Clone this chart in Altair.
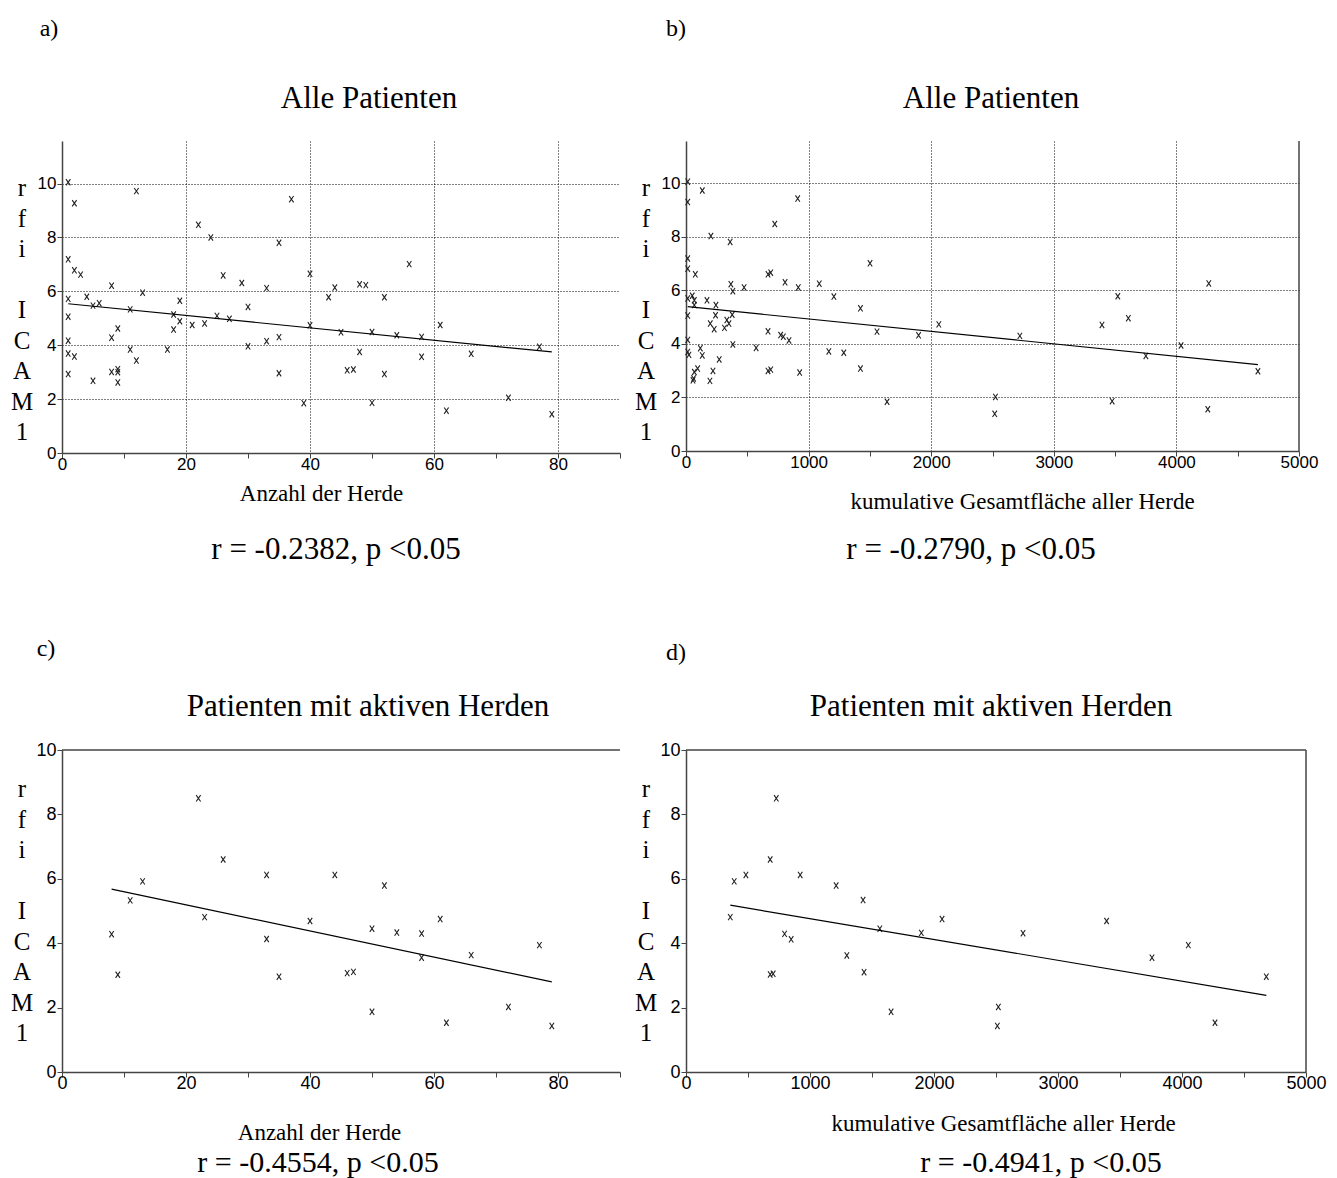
import altair as alt
import pandas as pd

# ---------------- data ----------------
a_x = [1, 2, 12, 37, 22, 24, 35, 1, 2, 3, 26, 40, 29, 8, 33, 13, 1, 4, 5, 6,
       19, 30, 11, 18, 19, 25, 27, 1, 21, 23, 40, 9, 18, 8, 35, 1, 11, 17, 30, 33,
       1, 2, 12, 8, 9, 9, 1, 5, 9, 35, 39,
       56, 43, 44, 48, 49, 52, 61, 45, 50, 54, 58, 48, 58, 66, 77, 46, 47, 52, 50, 72, 62, 79]
a_y = [10.05, 9.27, 9.72, 9.42, 8.47, 8.0, 7.8, 7.19, 6.78, 6.62, 6.59, 6.65, 6.31, 6.21, 6.12, 5.95, 5.72, 5.80, 5.47, 5.56,
       5.65, 5.42, 5.33, 5.14, 4.89, 5.09, 4.98, 5.06, 4.75, 4.81, 4.74, 4.62, 4.58, 4.28, 4.30, 4.17, 3.84, 3.84, 3.96, 4.15,
       3.69, 3.58, 3.43, 3.01, 3.11, 3.0, 2.93, 2.68, 2.62, 2.96, 1.85,
       7.01, 5.78, 6.14, 6.26, 6.23, 5.78, 4.75, 4.48, 4.49, 4.37, 4.31, 3.75, 3.57, 3.68, 3.94, 3.07, 3.10, 2.93, 1.86, 2.05, 1.57, 1.44]
a_fit_x = [1, 79]
a_fit_y = [5.54, 3.75]

b_x = [14, 14, 133, 911, 724, 203, 360, 14, 14, 76, 669, 691, 1501, 808, 1087, 366, 382, 474, 916, 14,
       51, 68, 68, 171, 244, 1206, 1423, 14, 241, 377, 333, 350, 198, 230, 314, 669, 772, 794, 840, 1558,
       1897, 2062, 382, 572, 14, 117, 14, 24, 133, 1165, 1287, 271, 95, 68, 220, 669, 691, 927, 1423, 62,
       57, 195, 1640,
       2723, 4264, 3522, 3608, 3393, 4038, 3751, 4665, 2524, 2518, 3476, 4256]
b_y = [10.06, 9.30, 9.73, 9.43, 8.48, 8.03, 7.81, 7.19, 6.81, 6.60, 6.60, 6.66, 7.01, 6.30, 6.25, 6.23, 5.97, 6.11, 6.11, 5.70,
       5.80, 5.63, 5.45, 5.63, 5.45, 5.77, 5.33, 5.06, 5.07, 5.09, 4.89, 4.76, 4.76, 4.55, 4.60, 4.47, 4.33, 4.27, 4.13, 4.46,
       4.32, 4.73, 3.98, 3.85, 4.15, 3.84, 3.70, 3.59, 3.57, 3.72, 3.67, 3.42, 3.08, 2.95, 2.99, 2.99, 3.04, 2.93, 3.08, 2.71,
       2.64, 2.62, 1.84,
       4.30, 6.26, 5.78, 4.96, 4.71, 3.94, 3.55, 2.98, 2.02, 1.39, 1.86, 1.56]
b_fit_x = [14, 4665]
b_fit_y = [5.39, 3.23]

c_x = [8, 9, 11, 13, 22, 23, 26, 33, 33, 35, 40, 44, 52, 50, 54, 58, 61, 58, 66, 77, 46, 47, 50, 72, 62, 79]
c_y = [4.28, 3.02, 5.33, 5.92, 8.50, 4.81, 6.60, 6.12, 4.13, 2.96, 4.69, 6.12, 5.79, 4.45, 4.33, 4.30, 4.75, 3.55, 3.63,
       3.94, 3.07, 3.11, 1.87, 2.02, 1.53, 1.43]
c_fit_x = [8, 79]
c_fit_y = [5.68, 2.80]

d_x = [357, 389, 483, 679, 728, 679, 703, 921, 795, 848, 1211, 1428, 1297, 1436, 1563, 1898, 2065, 1654, 2718, 3392,
       4051, 3758, 4680, 2519, 2511, 4266]
d_y = [4.81, 5.92, 6.12, 6.60, 8.50, 3.03, 3.05, 6.12, 4.29, 4.12, 5.79, 5.34, 3.62, 3.10, 4.45, 4.32, 4.75, 1.87, 4.31,
       4.69, 3.94, 3.55, 2.96, 2.02, 1.43, 1.53]
d_fit_x = [357, 4680]
d_fit_y = [5.18, 2.38]

count_ticks = [0, 10, 20, 30, 40, 50, 60, 70, 80, 90]
area_ticks = [0, 500, 1000, 1500, 2000, 2500, 3000, 3500, 4000, 4500, 5000]
y_ticks_top = [0, 1, 2, 3, 4, 5, 6, 7, 8, 9, 10, 11]
y_ticks_bottom = [0, 1, 2, 3, 4, 5, 6, 7, 8, 9, 10]

panel_letters = ["a)", "b)", "c)", "d)"]
panel_titles = ["Alle Patienten", "Alle Patienten",
                "Patienten mit aktiven Herden", "Patienten mit aktiven Herden"]
x_titles = ["Anzahl der Herde", "kumulative Gesamtfläche aller Herde",
            "Anzahl der Herde", "kumulative Gesamtfläche aller Herde"]
r_texts = ["r = -0.2382, p <0.05", "r = -0.2790, p <0.05",
           "r = -0.4554, p <0.05", "r = -0.4941, p <0.05"]
y_title_part1 = ["r", "f", "i"]
y_title_part2 = ["I", "C", "A", "M", "1"]

# ---------------- styling ----------------
SERIF = "Liberation Serif, Times New Roman, serif"
TICKF = "Liberation Sans Narrow, Arial Narrow, Liberation Sans, sans-serif"
XPATH = "M-0.7,-1L0.7,1M0.7,-1L-0.7,1"
AXC = "#444444"
LH = 30.5


def text_layer(s, x, y, size, line_height=None):
    kw = dict(font=SERIF, fontSize=size, align="center", baseline="middle", color="black")
    if line_height is not None:
        kw["lineHeight"] = line_height
        kw["text"] = s
        return alt.Chart(pd.DataFrame({"t": [0]})).mark_text(**kw).encode(
            x=alt.value(x), y=alt.value(y))
    return alt.Chart(pd.DataFrame({"t": [s]})).mark_text(**kw).encode(
        text="t:N", x=alt.value(x), y=alt.value(y))


def panel(i, xs, ys, fx, fy, xticks, xlab, xmax, yticks, ymax, grid, w, h,
          xt_pos, r_pos, r_size, letter_pos, title_pos, ytitle_y, fs, lab_pad, top_rule, right_rule):
    df = pd.DataFrame({"x": xs, "y": ys})
    fit = pd.DataFrame({"x": fx, "y": fy})

    xaxis_kw = dict(
        values=xticks, format="d",
        labelExpr=f"datum.value % {xlab} === 0 && datum.value < {xmax + 1} ? datum.label : ''",
        domainColor=AXC, domainWidth=1.5, tickColor=AXC, tickSize=5, tickWidth=1,
        labelFont=TICKF, labelFontSize=fs, labelColor="black", labelPadding=lab_pad,
        labelFlush=False, labelOverlap=False, labelBound=False,
        title=x_titles[i], titleFont=SERIF, titleFontSize=23, titleFontWeight="normal",
        titleColor="black", titleX=xt_pos[0], titleY=xt_pos[1], titleAlign="center",
        titleBaseline="middle", grid=grid,
    )
    yaxis_kw = dict(
        values=yticks, format="d",
        labelExpr="datum.value % 2 === 0 ? datum.label : ''",
        domainColor=AXC, domainWidth=1.5, tickColor=AXC, tickSize=5, tickWidth=1,
        labelFont=TICKF, labelFontSize=fs, labelColor="black", labelPadding=1,
        labelFlush=False, labelOverlap=False, labelBound=False,
        title="", grid=grid,
    )
    if grid:
        xaxis_kw.update(gridColor="black", gridDash=[1, 2], gridWidth=1,
                        gridOpacity={"condition": {"test": f"datum.value % {xlab} === 0 && datum.value > 0 && datum.value < {xmax}",
                                                   "value": 1}, "value": 0})
        yaxis_kw.update(gridColor="black", gridDash=[1, 2], gridWidth=1,
                        gridOpacity={"condition": {"test": "datum.value % 2 === 0 && datum.value > 0 && datum.value <= 10",
                                                   "value": 1}, "value": 0})

    xs_scale = alt.Scale(domain=[0, xmax], nice=False, zero=False)
    ys_scale = alt.Scale(domain=[0, ymax], nice=False, zero=False)

    pts = alt.Chart(df).mark_point(
        shape=XPATH, size=40, filled=False, stroke="#222222", strokeWidth=1.1, opacity=1
    ).encode(
        x=alt.X("x:Q", scale=xs_scale, axis=alt.Axis(**xaxis_kw)),
        y=alt.Y("y:Q", scale=ys_scale, axis=alt.Axis(**yaxis_kw)),
    )
    line = alt.Chart(fit).mark_line(color="black", strokeWidth=1.2).encode(x="x:Q", y="y:Q")
    layers = [pts, line]
    if top_rule:
        layers.append(alt.Chart(pd.DataFrame({"t": [0]})).mark_rule(color=AXC, strokeWidth=1.5)
                      .encode(y=alt.datum(ymax)))
    if right_rule:
        layers.append(alt.Chart(pd.DataFrame({"t": [0]})).mark_rule(color=AXC, strokeWidth=1.5)
                      .encode(x=alt.datum(xmax)))
    layers.append(text_layer(panel_letters[i], letter_pos[0], letter_pos[1], 24))
    layers.append(text_layer(panel_titles[i], title_pos[0], title_pos[1], 31))
    layers.append(text_layer(r_texts[i], r_pos[0], r_pos[1], r_size))
    layers.append(text_layer(y_title_part1, -40, ytitle_y, 25, LH))
    layers.append(text_layer(y_title_part2, -40, ytitle_y + 4 * LH, 25, LH))
    if i == 0:
        # invisible anchor fixing the page origin relative to this panel
        layers.append(alt.Chart(pd.DataFrame({"t": [0]})).mark_point(opacity=0, size=1)
                      .encode(x=alt.value(-61), y=alt.value(-140)))
    return alt.layer(*layers).properties(width=w, height=h)


pa = panel(0, a_x, a_y, a_fit_x, a_fit_y, count_ticks, 20, 90, y_ticks_top, 11.58, True, 558, 312,
           (259, 40), (274, 409), 31, (-13, -112), (307, -42), 47, 17, -2, False, False)
pb = panel(1, b_x, b_y, b_fit_x, b_fit_y, area_ticks, 1000, 5000, y_ticks_top, 11.58, True, 613, 310,
           (336, 50), (285, 409), 31, (-10, -112), (305, -42), 47, 17, -2, False, True)
pc = panel(2, c_x, c_y, c_fit_x, c_fit_y, count_ticks, 20, 90, y_ticks_bottom, 10, False, 558, 322,
           (257, 60), (256, 413), 30, (-16, -101), (306, -43), 39, 18, -3, True, False)
pd_ = panel(3, d_x, d_y, d_fit_x, d_fit_y, area_ticks, 1000, 5000, y_ticks_bottom, 10, False, 620, 322,
            (317, 51), (355, 413), 30, (-10, -97), (305, -43), 39, 18, -3, True, True)

chart = alt.concat(
    pa, pb, pc, pd_, columns=2, spacing={"row": 297, "column": 66}, bounds="flush",
    padding={"left": 0, "top": 0, "right": 5, "bottom": 12}
).configure(background="white").configure_view(strokeWidth=0, stroke="transparent")

chart.save("out.html", embed_options={"renderer": "svg", "actions": False})
